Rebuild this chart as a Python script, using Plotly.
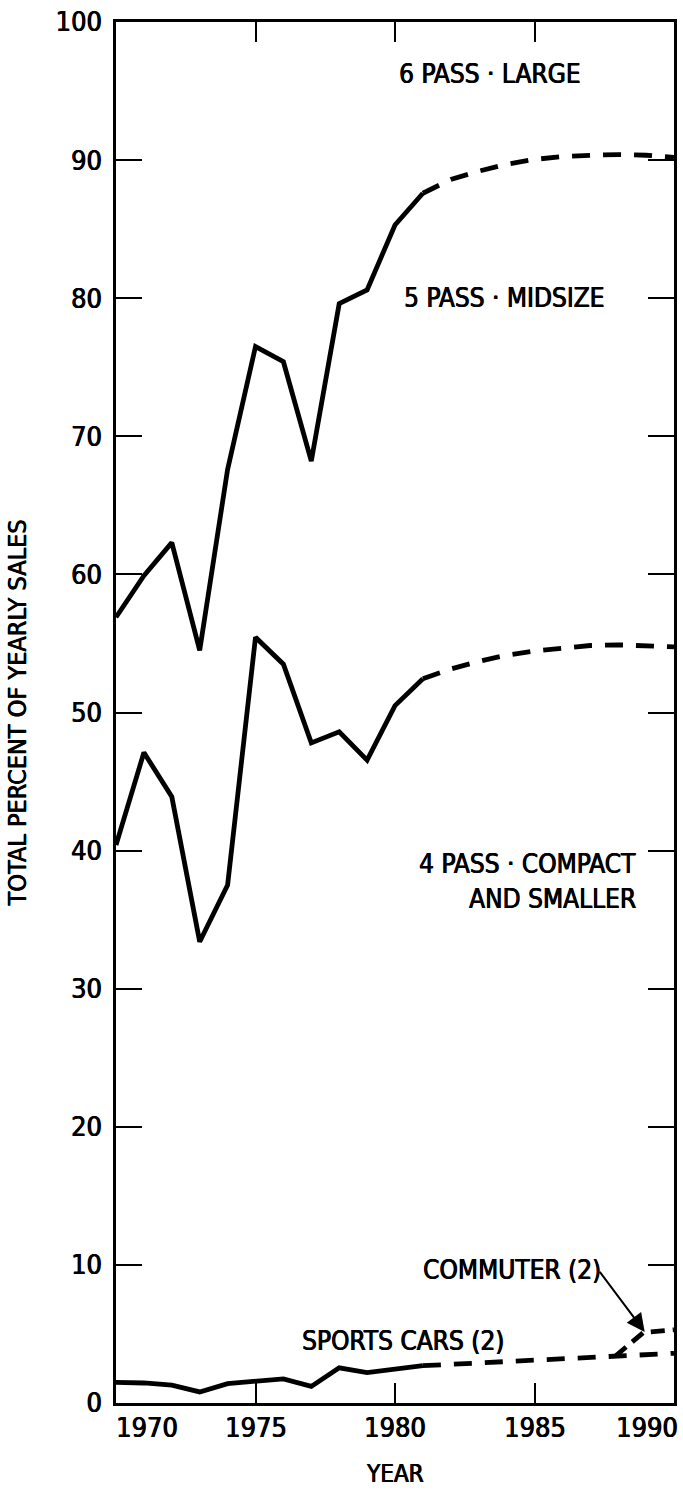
import plotly.graph_objects as go

# ---- data ----
years_hist = [1970, 1971, 1972, 1973, 1974, 1975, 1976, 1977, 1978, 1979, 1980, 1981]
midsize_hist = [56.9, 59.9, 62.3, 54.5, 67.6, 76.5, 75.4, 68.2, 79.6, 80.6, 85.3, 87.6]
compact_hist = [40.4, 47.1, 43.9, 33.4, 37.5, 55.45, 53.5, 47.8, 48.6, 46.55, 50.5, 52.45]
sports_hist = [1.5, 1.45, 1.3, 0.8, 1.4, 1.55, 1.75, 1.2, 2.55, 2.2, 2.45, 2.7]

years_proj = [1981, 1982, 1983, 1984, 1985, 1986, 1987, 1988, 1989, 1990]
midsize_proj = [87.6, 88.6, 89.2, 89.7, 90.05, 90.25, 90.35, 90.4, 90.35, 90.2]
compact_proj = [52.45, 53.15, 53.7, 54.15, 54.45, 54.65, 54.85, 54.9, 54.85, 54.75]
sports_proj = [2.7, 2.8, 2.9, 3.0, 3.1, 3.2, 3.3, 3.4, 3.5, 3.6]

commuter_years = [1987.9, 1988.9, 1990]
commuter_proj = [3.4, 5.1, 5.3]

x_tick_vals = [1970, 1975, 1980, 1985, 1990]
x_tick_text = ["1970", "1975", "1980", "1985", "1990"]
y_tick_vals = [0, 10, 20, 30, 40, 50, 60, 70, 80, 90, 100]

FONT = "Liberation Sans Narrow, DejaVu Sans Condensed, Arial Narrow, Liberation Sans, sans-serif"
SH = "0.6px 0px 0px black, -0.3px 0px 0px black"
LW = 4.8
DASH = "18px,13px"


def F(size):
    return dict(family=FONT, size=size, color="black", shadow=SH)


fig = go.Figure()
for y in (midsize_hist, compact_hist, sports_hist):
    fig.add_trace(go.Scatter(x=years_hist, y=y, mode="lines",
                             line=dict(color="black", width=LW), showlegend=False,
                             hoverinfo="skip"))
for y in (midsize_proj, compact_proj, sports_proj):
    fig.add_trace(go.Scatter(x=years_proj, y=y, mode="lines",
                             line=dict(color="black", width=LW, dash=DASH), showlegend=False,
                             hoverinfo="skip"))
fig.add_trace(go.Scatter(x=commuter_years, y=commuter_proj, mode="lines",
                         line=dict(color="black", width=LW, dash="14px,8px"), showlegend=False,
                         hoverinfo="skip"))

labels = [
    ("6 PASS · LARGE", 1983.4, 96.25, "center"),
    ("5 PASS · MIDSIZE", 1983.9, 80.0, "center"),
    ("4 PASS · COMPACT", 1988.7, 39.0, "right"),
    ("AND SMALLER", 1988.7, 36.5, "right"),
    ("SPORTS CARS (2)", 1980.3, 4.5, "center"),
    ("COMMUTER (2)", 1984.2, 9.6, "center"),
]
for text, x, y, anc in labels:
    fig.add_annotation(x=x, y=y, xref="x", yref="y", text=text, showarrow=False,
                       xanchor=anc, yanchor="middle", font=F(26))

# arrow to commuter line
fig.add_annotation(x=1988.95, y=5.15, ax=1987.3, ay=9.6, xref="x", yref="y",
                   axref="x", ayref="y", text="", showarrow=True,
                   arrowhead=2, arrowsize=1.8, arrowwidth=2, arrowcolor="black")

# x tick labels (end labels pulled inside the frame, as in the original)
for v, t in zip(x_tick_vals, x_tick_text):
    anc = "left" if v == x_tick_vals[0] else ("right" if v == x_tick_vals[-1] else "center")
    fig.add_annotation(x=v, y=0, xref="x", yref="paper", text=t, showarrow=False,
                       xanchor=anc, yanchor="top", yshift=-7,
                       xshift=(-2 if anc == "left" else (6 if anc == "right" else 0)),
                       font=F(27))

fig.add_annotation(x=0.5, y=0, xref="paper", yref="paper", text="YEAR", showarrow=False,
                   xanchor="center", yanchor="middle", yshift=-71, font=F(24))

fig.update_xaxes(range=[1970, 1990], tickvals=x_tick_vals[1:-1], ticktext=[""] * 3,
                 ticks="inside", ticklen=20, tickwidth=2, tickcolor="black",
                 showline=True, linewidth=2.5, linecolor="black", mirror="ticks",
                 showgrid=False, zeroline=False, showticklabels=False)
fig.update_yaxes(range=[0, 100], tickvals=y_tick_vals,
                 ticks="inside", ticklen=26, tickwidth=2, tickcolor="black",
                 showline=True, linewidth=2.5, linecolor="black", mirror="ticks",
                 showgrid=False, zeroline=False,
                 tickfont=F(27), ticklabelstandoff=6,
                 title=dict(text="TOTAL PERCENT OF YEARLY SALES", font=F(25), standoff=22))

fig.update_layout(width=683, height=1491, autosize=False,
                  margin=dict(l=116, r=6, t=18, b=88),
                  paper_bgcolor="white", plot_bgcolor="white",
                  font=dict(family=FONT, color="black"))

fig.write_html("out.html", config={"displayModeBar": False})
